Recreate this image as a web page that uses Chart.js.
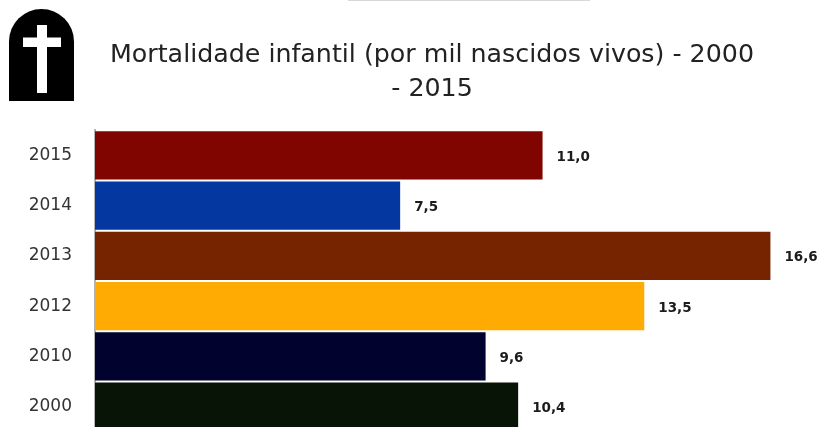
<!DOCTYPE html>
<html><head><meta charset="utf-8">
<style>html,body{margin:0;padding:0;background:#fff;overflow:hidden;width:822px;height:427px}
#w{position:relative;width:864px;height:465px}</style>
<script src="https://cdn.jsdelivr.net/npm/chart.js@4"></script></head>
<body><div id="w"><canvas id="c" width="864" height="465" style="display:block;width:864px;height:465px"></canvas></div>
<script>
const categories=["2015","2014","2013","2012","2010","2000"];
const values=[11.0,7.5,16.6,13.5,9.6,10.4];
const barColors=["#800400","#0437a0","#762400","#ffab03","#01032e","#081405"];
const titleLines=["Mortalidade infantil (por mil nascidos vivos) - 2000","- 2015"];
const decor={id:"decor",afterDraw(ch){
  const g=ch.ctx;g.save();
  g.fillStyle="#000";g.beginPath();g.moveTo(9,101);g.lineTo(9,41.5);
  g.arc(41.5,41.5,32.5,Math.PI,0);g.lineTo(74,101);g.closePath();g.fill();
  g.fillStyle="#fff";g.fillRect(37,25,10,68);g.fillRect(23,37.5,38,9.5);
  g.fillStyle="#d8d8d8";g.fillRect(348,0,242,1);
  g.fillStyle="#1c1c1c";g.font="bold 13.5px 'DejaVu Sans'";g.textBaseline="middle";g.textAlign="left";
  ch.getDatasetMeta(0).data.forEach((b,i)=>{g.fillText(values[i].toFixed(1).replace(".",","),b.x+14,b.y+2);});
  g.restore();
}};
new Chart(document.getElementById("c"),{type:"bar",plugins:[decor],
 data:{labels:categories,datasets:[{data:values,backgroundColor:barColors,borderWidth:0,categoryPercentage:1,barPercentage:0.96}]},
 options:{indexAxis:"y",responsive:false,animation:false,
  layout:{padding:{top:0,right:0,bottom:7,left:0}},
  plugins:{legend:{display:false},tooltip:{enabled:false},
   title:{display:true,text:titleLines,color:"#222",font:{family:"'DejaVu Sans'",size:25.3,weight:"normal",lineHeight:1.35},padding:{top:38,bottom:24}}},
  scales:{
   x:{display:false,min:0,max:18.9},
   y:{afterFit(s){s.width=95;},border:{color:"#b5b5b5",width:2},grid:{display:false,drawTicks:false},
      ticks:{color:"#333",padding:23,font:{family:"'DejaVu Sans'",size:17}}}
  }}});
</script></body></html>
